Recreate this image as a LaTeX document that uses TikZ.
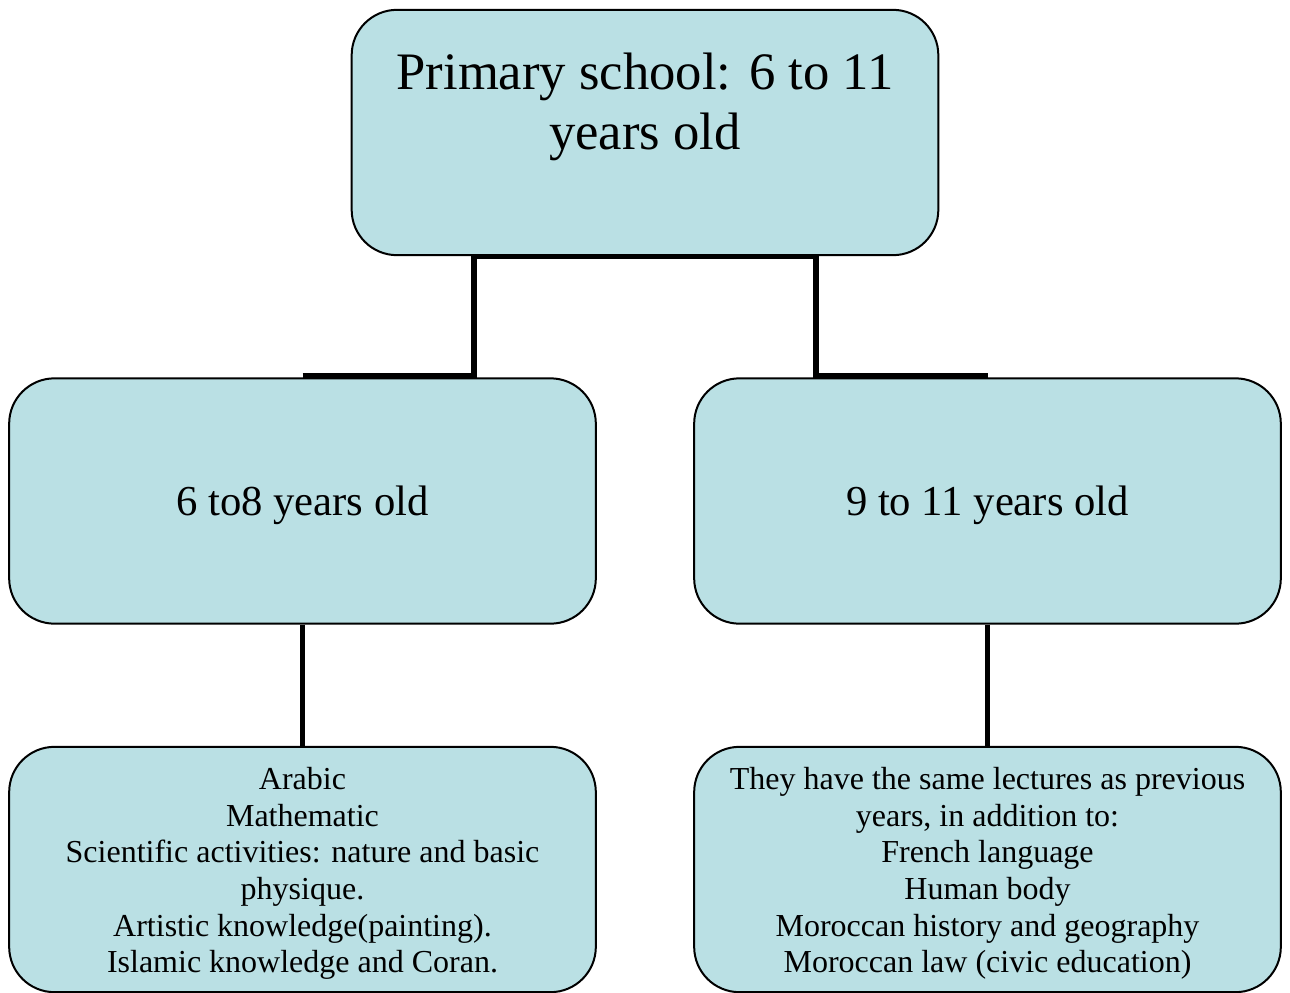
\documentclass[tikz,border=0pt]{standalone}
\usepackage{fontspec}
\setmainfont{Liberation Serif}
\definecolor{boxfill}{RGB}{186,224,228}
\tikzset{every picture/.style={line width=0.75pt}}
\tikzset{
  box/.style={draw=black, fill=boxfill, line width=1.5pt, rounded corners=34pt,
    minimum width=440pt, minimum height=184pt, inner sep=0pt},
  conn/.style={draw=black, line width=3.9pt},
  bigtxt/.style={font=\fontsize{39.5pt}{45pt}\selectfont, align=center},
  midtxt/.style={font=\fontsize{32pt}{37pt}\selectfont, align=center},
  smalltxt/.style={font=\fontsize{24pt}{27.5pt}\selectfont, align=center}
}

\begin{document}
\begin{tikzpicture}[x=0.75pt,y=0.75pt,yscale=-1,xscale=1]
\useasboundingbox (0,0) rectangle (1290,993);

%Rounded Rect [top]
\node[box] (top) at (645,132.5) {};
\node[bigtxt] (toptxt) at (645,107) {Primary school: 6 to 11\\years old};

%Rounded Rect [middle]
\node[box] (lft) at (302.5,501) {};
\node[midtxt] (lfttxt) at (302.5,505) {6 to8 years old};
\node[box] (rgt) at (987.5,501) {};
\node[midtxt] (rgttxt) at (987.5,505) {9 to 11 years old};

%Rounded Rect [bottom]
\node[box] (lbot) at (302.5,869.5) {};
\node[smalltxt] (lbottxt) at (302.5,873.5) {Arabic\\Mathematic\\Scientific activities: nature and basic\\physique.\\Artistic knowledge(painting).\\Islamic knowledge and Coran.};
\node[box] (rbot) at (987.5,869.5) {};
\node[smalltxt] (rbottxt) at (987.5,873.5) {They have the same lectures as previous\\years, in addition to:\\French language\\Human body\\Moroccan history and geography\\Moroccan law (civic education)};

%Straight Lines [elbows]
\coordinate (kl) at (474,376);
\coordinate (kr) at (816,376);
\draw[conn] (lft.north |- kl) -- (kl) -- (kl |- top.south) -- (top.south);
\draw[conn] (rgt.north |- kr) -- (kr) -- (kr |- top.south) -- (top.south);
%Straight Lines [down]
\draw[conn] (lft.south) -- (lbot.north);
\draw[conn] (rgt.south) -- (rbot.north);

\end{tikzpicture}
\end{document}
